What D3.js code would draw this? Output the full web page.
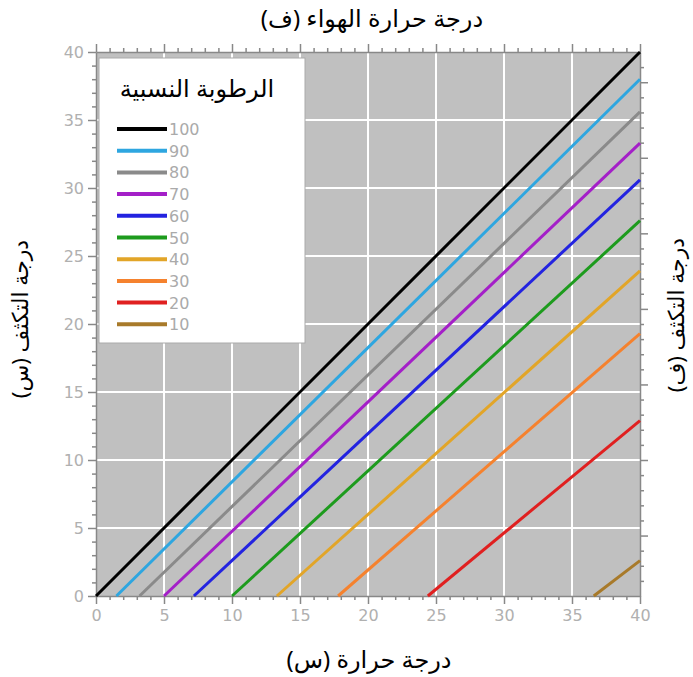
<!DOCTYPE html>
<html><head><meta charset="utf-8">
<script src="https://cdn.jsdelivr.net/npm/d3@7"></script>
<style>body{margin:0;background:#fff}svg{display:block}</style>
</head><body>
<svg id="c" width="693" height="677"></svg>
<script>
// Relative humidity series (%), with x-intercept temperature (°C) where dew point = 0 and dew point at 40°C
const humidity = [100, 90, 80, 70, 60, 50, 40, 30, 20, 10];
const startTemp = [0, 1.5, 3.2, 5.0, 7.2, 10.0, 13.3, 17.8, 24.4, 36.6];
const dewAt40 = [40, 38.0, 35.6, 33.3, 30.6, 27.6, 23.9, 19.3, 12.9, 2.6];
const colors = ["#000000", "#2ea6e0", "#8a8a8a", "#a41fc8", "#2323e0", "#1d9b1d", "#e2a528", "#f5822e", "#e02020", "#a87a2a"];
const xTicks = [0, 5, 10, 15, 20, 25, 30, 35, 40];
const yTicks = [0, 5, 10, 15, 20, 25, 30, 35, 40];

const svg = d3.select("#c");
const L = 96, R = 640, T = 52, B = 596;
const x = d3.scaleLinear().domain([0, 40]).range([L, R]);
const y = d3.scaleLinear().domain([0, 40]).range([B, T]);
const yF = d3.scaleLinear().domain([32, 104]).range([B, T]);

// background
svg.append("rect").attr("x", L).attr("y", T).attr("width", R - L).attr("height", B - T).attr("fill", "#c0c0c0");
// grid
svg.append("g").selectAll("line").data(xTicks.slice(1, -1)).join("line")
  .attr("x1", d => x(d)).attr("x2", d => x(d)).attr("y1", T).attr("y2", B)
  .attr("stroke", "#fff").attr("stroke-width", 2);
svg.append("g").selectAll("line").data(yTicks.slice(1, -1)).join("line")
  .attr("y1", d => y(d)).attr("y2", d => y(d)).attr("x1", L).attr("x2", R)
  .attr("stroke", "#fff").attr("stroke-width", 2);

const tickColor = "#888";
function styleAxis(g) {
  g.select(".domain").attr("stroke", tickColor).attr("stroke-width", 1.5);
  g.selectAll(".tick line").attr("stroke", tickColor).attr("stroke-width", 1.5);
  g.selectAll(".tick text").attr("fill", "#b0b0b0").attr("font-family", "DejaVu Sans, Verdana, sans-serif").attr("font-size", 16);
}
const minor = d3.range(0, 41, 1).filter(d => d % 5 !== 0);
// bottom axis
const gb = svg.append("g").attr("transform", `translate(0,${B})`);
gb.call(d3.axisBottom(x).tickValues(xTicks).tickSize(8).tickSizeOuter(0).tickPadding(6));
gb.append("g").call(d3.axisBottom(x).tickValues(minor).tickSize(4).tickFormat("")).select(".domain").remove();
styleAxis(gb);
// left axis
const gl = svg.append("g").attr("transform", `translate(${L},0)`);
gl.call(d3.axisLeft(y).tickValues(yTicks).tickSize(8).tickSizeOuter(0).tickPadding(4));
gl.append("g").call(d3.axisLeft(y).tickValues(minor).tickSize(4).tickFormat("")).select(".domain").remove();
styleAxis(gl);
// top axis (no labels)
const gt = svg.append("g").attr("transform", `translate(0,${T})`);
gt.call(d3.axisTop(x).tickValues(xTicks).tickSize(8).tickSizeOuter(0).tickFormat(""));
gt.append("g").call(d3.axisTop(x).tickValues(minor).tickSize(4).tickFormat("")).select(".domain").remove();
styleAxis(gt);
// right axis (Fahrenheit, no labels)
const fMajor = [40, 50, 60, 70, 80, 90, 100];
const fMinor = d3.range(34, 104, 2).filter(d => d % 10 !== 0);
const gr = svg.append("g").attr("transform", `translate(${R},0)`);
gr.call(d3.axisRight(yF).tickValues(fMajor).tickSize(8).tickSizeOuter(0).tickFormat(""));
gr.append("g").call(d3.axisRight(yF).tickValues(fMinor).tickSize(4).tickFormat("")).select(".domain").remove();
styleAxis(gr);

// lines
const series = humidity.map((h, i) => ({h, c: colors[i], pts: [[startTemp[i], 0], [40, dewAt40[i]]]}));
const line = d3.line().x(d => x(d[0])).y(d => y(d[1]));
svg.append("g").selectAll("path").data(series).join("path")
  .attr("d", d => line(d.pts)).attr("fill", "none").attr("stroke", d => d.c).attr("stroke-width", 3);

// legend
const tf = "Noto Sans, DejaVu Sans, sans-serif";
const lg = svg.append("g");
lg.append("rect").attr("x", 99).attr("y", 58).attr("width", 206).attr("height", 285)
  .attr("fill", "#fff").attr("stroke", "#aaa").attr("stroke-width", 1);
lg.append("text").attr("x", 197).attr("y", 97).attr("text-anchor", "middle")
  .attr("font-family", tf).attr("font-size", 24).attr("fill", "#000")
  .text("الرطوبة النسبية");
const rows = lg.selectAll("g.r").data(series).join("g").attr("class", "r")
  .attr("transform", (d, i) => `translate(0,${129 + i * 21.7})`);
rows.append("line").attr("x1", 117).attr("x2", 167).attr("y1", 0).attr("y2", 0)
  .attr("stroke", d => d.c).attr("stroke-width", 4);
rows.append("text").attr("x", 169).attr("y", 6).attr("fill", "#aaa")
  .attr("font-family", "DejaVu Sans, Verdana, sans-serif").attr("font-size", 16).text(d => d.h);

// titles
svg.append("text").attr("x", 372).attr("y", 27).attr("text-anchor", "middle").attr("font-family", tf)
  .attr("font-size", 24).attr("fill", "#000").text("درجة حرارة الهواء (ف)");
svg.append("text").attr("x", 369).attr("y", 668).attr("text-anchor", "middle").attr("font-family", tf)
  .attr("font-size", 24).attr("fill", "#000").text("درجة حرارة (س)");
svg.append("text").attr("transform", "translate(28,319) rotate(-90)").attr("text-anchor", "middle").attr("font-family", tf)
  .attr("font-size", 22).attr("fill", "#000").text("درجة التكثف (س)");
svg.append("text").attr("transform", "translate(684,315) rotate(-90)").attr("text-anchor", "middle").attr("font-family", tf)
  .attr("font-size", 22).attr("fill", "#000").text("درجة التكثف (ف)");
</script>
</body></html>
